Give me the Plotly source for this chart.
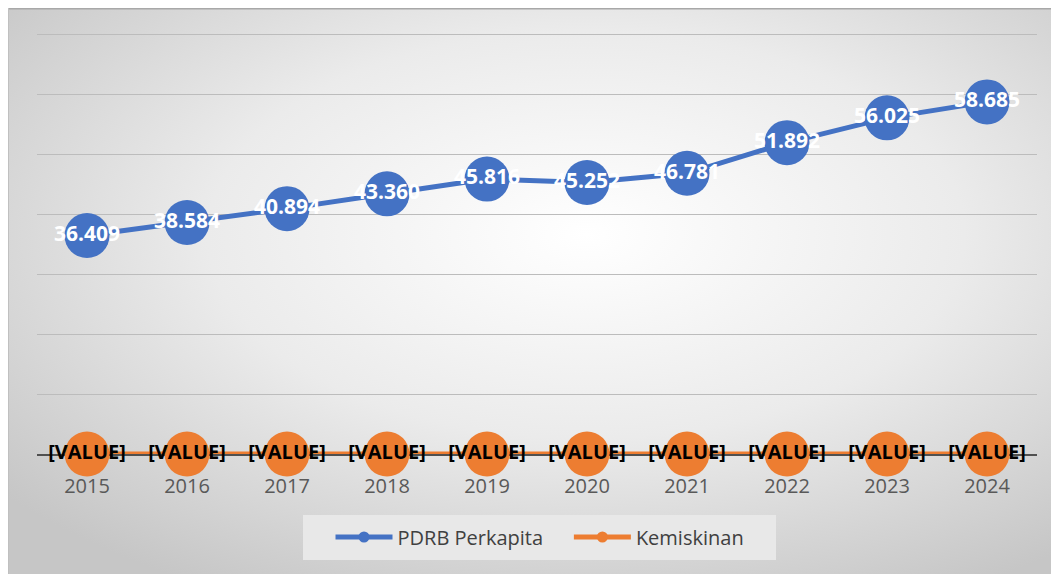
import base64
import plotly.graph_objects as go

years = ["2015", "2016", "2017", "2018", "2019", "2020", "2021", "2022", "2023", "2024"]
pdrb = [36.409, 38.584, 40.894, 43.360, 45.816, 45.252, 46.781, 51.892, 56.025, 58.685]
pdrb_labels = ["36.409", "38.584", "40.894", "43.360", "45.816", "45.252", "46.781", "51.892", "56.025", "58.685"]
kemiskinan = [0, 0, 0, 0, 0, 0, 0, 0, 0, 0]
kemiskinan_labels = ["[VALUE]"] * 10

BLUE = "#4472C4"
ORANGE = "#ED7D31"
FONT = "Open Sans"

OFF = 8  # page body margin
W, H = 1051, 566
L, R, T, B = 37 - OFF, 22, 31 - OFF, 120
pw, ph = W - L - R, H - T - B

def px2x(p):
    return (p - OFF - L) / pw

def py2y(p):
    return (H - B - (p - OFF)) / ph

svg = """<svg xmlns='http://www.w3.org/2000/svg' width='1052' height='569' viewBox='0 0 1052 569' preserveAspectRatio='none'>
<defs><radialGradient id='g' cx='55%' cy='40%' r='72%' fx='55%' fy='40%'>
<stop offset='0' stop-color='#ffffff'/><stop offset='0.5' stop-color='#ebebeb'/><stop offset='1' stop-color='#c6c6c6'/>
</radialGradient></defs>
<rect x='0' y='0' width='1052' height='569' fill='url(#g)'/>
</svg>"""
src = "data:image/svg+xml;base64," + base64.b64encode(svg.encode()).decode()

fig = go.Figure()
fig.add_trace(go.Scatter(
    x=years, y=pdrb, mode="lines+markers+text", text=pdrb_labels,
    textposition="middle center",
    textfont=dict(family=FONT, size=21, color="white", weight="bold"),
    line=dict(color=BLUE, width=5), marker=dict(color=BLUE, size=45),
    showlegend=False, cliponaxis=False,
))
fig.add_trace(go.Scatter(
    x=years, y=kemiskinan, mode="lines+markers+text", text=kemiskinan_labels,
    textposition="middle center",
    textfont=dict(family=FONT, size=20, color="black", weight="bold"),
    line=dict(color=ORANGE, width=5), marker=dict(color=ORANGE, size=45),
    showlegend=False, cliponaxis=False,
))
fig.add_trace(go.Scatter(x=[None], y=[None], mode="lines+markers", name="PDRB Perkapita\u00a0\u00a0\u00a0\u00a0",
                         line=dict(color=BLUE, width=5), marker=dict(color=BLUE, size=11)))
fig.add_trace(go.Scatter(x=[None], y=[None], mode="lines+markers", name="Kemiskinan",
                         line=dict(color=ORANGE, width=5), marker=dict(color=ORANGE, size=11)))

fig.update_layout(
    width=W, height=H,
    margin=dict(l=L, r=R, t=T, b=B),
    paper_bgcolor="white", plot_bgcolor="rgba(0,0,0,0)",
    font=dict(family=FONT, color="#595959"),
    images=[dict(source=src, xref="paper", yref="paper",
                 x=px2x(OFF), y=py2y(OFF), sizex=(W) / pw, sizey=(H) / ph,
                 xanchor="left", yanchor="top", sizing="stretch", layer="below")],
    shapes=[dict(type="line", xref="paper", yref="paper", x0=px2x(OFF), x1=px2x(OFF + W), y0=py2y(OFF + 0.5), y1=py2y(OFF + 0.5),
                 line=dict(color="#a8a8a8", width=2)),
            dict(type="line", xref="paper", yref="paper", x0=px2x(OFF + 0.5), x1=px2x(OFF + 0.5), y0=py2y(OFF), y1=py2y(OFF + H),
                 line=dict(color="#c0c0c0", width=1)),
            dict(type="rect", xref="paper", yref="paper", x0=px2x(303), x1=px2x(776), y0=py2y(515), y1=py2y(560),
                 fillcolor="#e8e8e8", line=dict(width=0), layer="below")],
    xaxis=dict(type="category", range=[-0.5, 9.5], showgrid=False, showline=True,
               linecolor="#505050", linewidth=2, layer="below traces", ticks="",
               tickfont=dict(family=FONT, size=20, color="#595959"), ticklabelstandoff=13),
    yaxis=dict(range=[0, 70.5], dtick=10, showgrid=True, gridcolor="#bcbcbc", gridwidth=1,
               showticklabels=False, zeroline=False, layer="below traces"),
    legend=dict(orientation="h", x=px2x(540), xanchor="center", y=py2y(537), yanchor="middle",
                bgcolor="rgba(0,0,0,0)", font=dict(family=FONT, size=20, color="#404040"),
                itemwidth=57, tracegroupgap=0),
)

fig.write_html("out.html")
